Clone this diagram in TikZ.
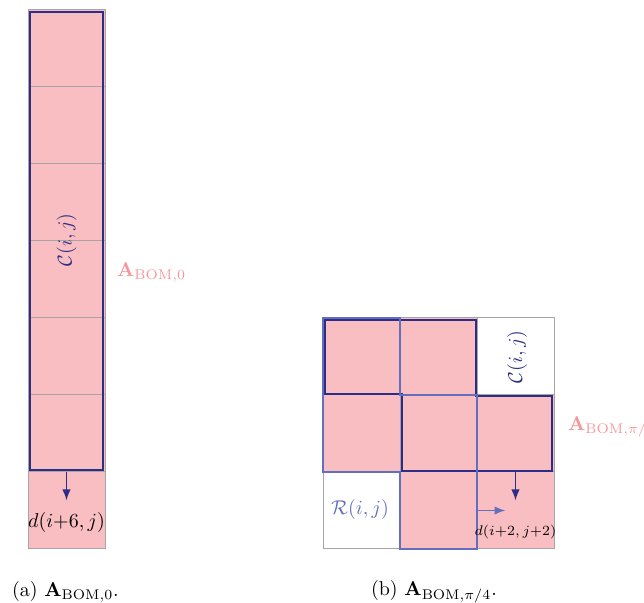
\documentclass[tikz,border=0pt]{standalone}
\usepackage{amsmath,amssymb}
\usetikzlibrary{positioning,arrows.meta,calc}
\definecolor{cellpink}{RGB}{248, 190, 193}
\definecolor{colblue}{RGB}{45, 45, 135}
\definecolor{rowblue}{RGB}{100, 110, 190}
\definecolor{gridgray}{RGB}{165, 165, 165}
\definecolor{labelpink}{RGB}{245, 150, 155}

\begin{document}
\begin{tikzpicture}[
    x=0.5pt, y=-0.5pt,
    font=\normalsize,
    % Matrix cell styles
    cell/.style={
        draw=gridgray,
        fill=cellpink,
        line width=0.5pt,
        minimum size=38.5pt,
        inner sep=0pt,
        outer sep=0pt
    },
    colline/.style={
        draw=colblue,
        line width=1.1pt
    },
    rowline/.style={
        draw=rowblue,
        line width=1.0pt
    },
    colarrow/.style={
        -{Latex[length=5.5pt,width=4.2pt]},
        draw=colblue, fill=colblue,
        line width=0.8pt
    },
    rowarrow/.style={
        -{Latex[length=5.5pt,width=4.2pt]},
        draw=rowblue, fill=rowblue,
        line width=0.8pt
    },
    matlabel/.style={
        anchor=west,
        text=labelpink
    }
]
    \useasboundingbox (0,0) rectangle (644,603);

    % =========================================================================
    % 1. LEFT MATRIX (single column)
    % =========================================================================
    \foreach \k in {1,...,7}
        \node[cell] (a\k) at (66.5, {10+77*(\k-0.5)}) {};

    % Column block C(i,j)
    \draw[colline] ([shift={(1pt,-1pt)}]a1.north west) rectangle ([shift={(-1pt,1pt)}]a6.south east);
    \node[rotate=90, text=colblue] (ca) at (66.5, 240) {$\mathcal{C}(i,j)$};

    % Dependency arrow and label
    \node (da) at ([yshift=-6pt]a7.center) {$d(i{+}6,j)$};
    \draw[colarrow] (a6.south) -- ([yshift=5pt]a7.center);

    \node[matlabel] (ma) at (110, 273) {$\mathbf{A}_{\mathrm{BOM},0}$};

    % =========================================================================
    % 2. RIGHT MATRIX (3 x 3)
    % =========================================================================
    \foreach \r/\c/\f in {1/1/cellpink, 1/2/cellpink, 1/3/white,
                          2/1/cellpink, 2/2/cellpink, 2/3/cellpink,
                          3/1/white,    3/2/cellpink, 3/3/cellpink}
        \node[cell, fill=\f] (b\r\c) at ({323+77*(\c-0.5)}, {318+77*(\r-0.5)}) {};

    % Column staircase C(i,j)
    \draw[colline] ([shift={(1pt,-1pt)}]b11.north west)
        -- ([shift={(-0.5pt,-1pt)}]b12.north east)
        -- ([shift={(-0.5pt,-0.5pt)}]b12.south east)
        -- ([shift={(-1pt,-0.5pt)}]b23.north east)
        -- ([shift={(-1pt,0.5pt)}]b23.south east)
        -- ([shift={(1pt,0.5pt)}]b22.south west)
        -- ([shift={(1pt,0.5pt)}]b22.north west)
        -- ([shift={(1pt,0.5pt)}]b11.south west)
        -- cycle;

    % Row staircase R(i,j)
    \draw[rowline] (b11.north west) -- (b12.north west) -- (b22.north west)
        -- (b23.north west) -- (b33.south west) -- (b32.south west)
        -- (b21.south east) -- (b21.south west) -- cycle;

    \node[rotate=90, text=colblue] (cb) at (517, 357) {$\mathcal{C}(i,j)$};
    \node[text=rowblue] (rb) at (360, 510) {$\mathcal{R}(i,j)$};

    % Dependency arrows and label
    \node[font=\scriptsize] (db) at ([yshift=-11pt]b33.center) {$d(i{+}2,j{+}2)$};
    \draw[colarrow] (b23.south) -- ([yshift=5pt]b33.center);
    \draw[rowarrow] (b33.west) -- ([xshift=-5pt]b33.center);

    \node[matlabel] (mb) at (561, 427) {$\mathbf{A}_{\mathrm{BOM},\pi/4}$};

    % =========================================================================
    % 3. CAPTIONS
    % =========================================================================
    \node[anchor=west] (capa) at (5, 592) {(a) $\mathbf{A}_{\mathrm{BOM},0}$.};
    \node[anchor=west] (capb) at (364, 592) {(b) $\mathbf{A}_{\mathrm{BOM},\pi/4}$.};

\end{tikzpicture}
\end{document}
